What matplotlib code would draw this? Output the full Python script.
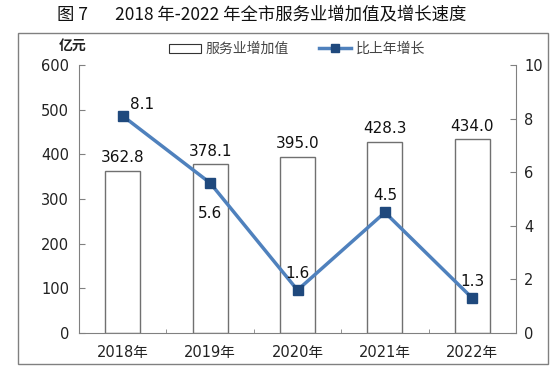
import matplotlib
matplotlib.use('Agg')
import matplotlib.pyplot as plt
from matplotlib.patches import Rectangle
from matplotlib.lines import Line2D

plt.rcParams['font.family'] = ['DejaVu Sans', 'Noto Sans CJK SC']

years = ['2018年', '2019年', '2020年', '2021年', '2022年']
value_added = [362.8, 378.1, 395.0, 428.3, 434.0]
growth = [8.1, 5.6, 1.6, 4.5, 1.3]
# label offsets in points (dx, dy) for the growth labels
growth_offsets = [(14, 8), (0, -22), (0, 12), (0, 12), (0, 12)]

fig = plt.figure(figsize=(5.58, 3.71), dpi=100)

# outer frame
fig.patches.append(Rectangle((18/558, 1-364/371), 530/558, 331/371,
                             transform=fig.transFigure, fill=False,
                             edgecolor='#808080', linewidth=1))

fig.text(262/558, 1-14/371, '图 7' + ' ' * 7 + '2018 年-2022 年全市服务业增加值及增长速度',
         ha='center', va='center', fontsize=12.5, fontweight='medium',
         family=['Noto Sans CJK SC', 'DejaVu Sans'], color='#111')

ax = fig.add_axes([79/558, 1-333/371, 437/558, 268/371])
x = list(range(len(years)))
ax.bar(x, value_added, width=0.4, facecolor='white', edgecolor='#707070', linewidth=1)
for xi, v in zip(x, value_added):
    ax.annotate(f'{v:.1f}', (xi, v), xytext=(0, 4), textcoords='offset points',
                ha='center', va='bottom', fontsize=11, color='#111')

ax.set_xlim(-0.5, 4.5)
ax.set_ylim(0, 600)
ax.set_yticks(range(0, 601, 100))
ax.set_xticks(x)
ax.set_xticklabels(years, fontsize=10.5, color='#222')
ax.set_xticks([i + 0.5 for i in range(-1, 5)], minor=True)
ax.tick_params(axis='x', which='major', length=0, pad=9)
ax.tick_params(axis='x', which='minor', length=3, direction='in', color='#808080')
ax.tick_params(axis='y', length=4, direction='in', color='#808080', labelsize=10.5,
               labelcolor='#222', pad=7)
for s in ['top', 'right']:
    ax.spines[s].set_visible(False)
for s in ['left', 'bottom']:
    ax.spines[s].set_color('#808080')
ax.text(-0.014, 1.071, '亿元', transform=ax.transAxes, ha='center', va='center',
        fontsize=10, fontweight='bold', family=['Noto Sans CJK SC'], color='#222')

ax2 = ax.twinx()
ax2.plot(x, growth, color='#4f81bd', linewidth=2.5, marker='s', markersize=7,
         markerfacecolor='#1f497d', markeredgecolor='#1f497d')
for xi, g, (dx, dy) in zip(x, growth, growth_offsets):
    ax2.annotate(f'{g:.1f}', (xi, g), xytext=(dx, dy), textcoords='offset points',
                 ha='center', va='center', fontsize=11, color='#111')
ax2.set_ylim(0, 10)
ax2.set_yticks(range(0, 11, 2))
ax2.tick_params(axis='y', length=4, direction='in', color='#808080', labelsize=10.5,
                labelcolor='#222', pad=6)
for s in ['top', 'left', 'bottom']:
    ax2.spines[s].set_visible(False)
ax2.spines['right'].set_color('#808080')

handles = [Rectangle((0, 0), 1, 1, facecolor='white', edgecolor='#333', linewidth=0.8),
           Line2D([], [], color='#4f81bd', linewidth=2.5, marker='s', markersize=6,
                  markerfacecolor='#1f497d', markeredgecolor='#1f497d')]
leg = fig.legend(handles, ['服务业增加值', '比上年增长'], loc='center',
                 bbox_to_anchor=(297/558, 1-49/371), ncol=2, frameon=False,
                 prop={'family': 'Noto Sans CJK SC', 'size': 10},
                 handlelength=2.3, handleheight=0.6, columnspacing=2.2, handletextpad=0.3)
for t in leg.get_texts():
    t.set_color('#444')

fig.savefig('out.png', dpi=100)
